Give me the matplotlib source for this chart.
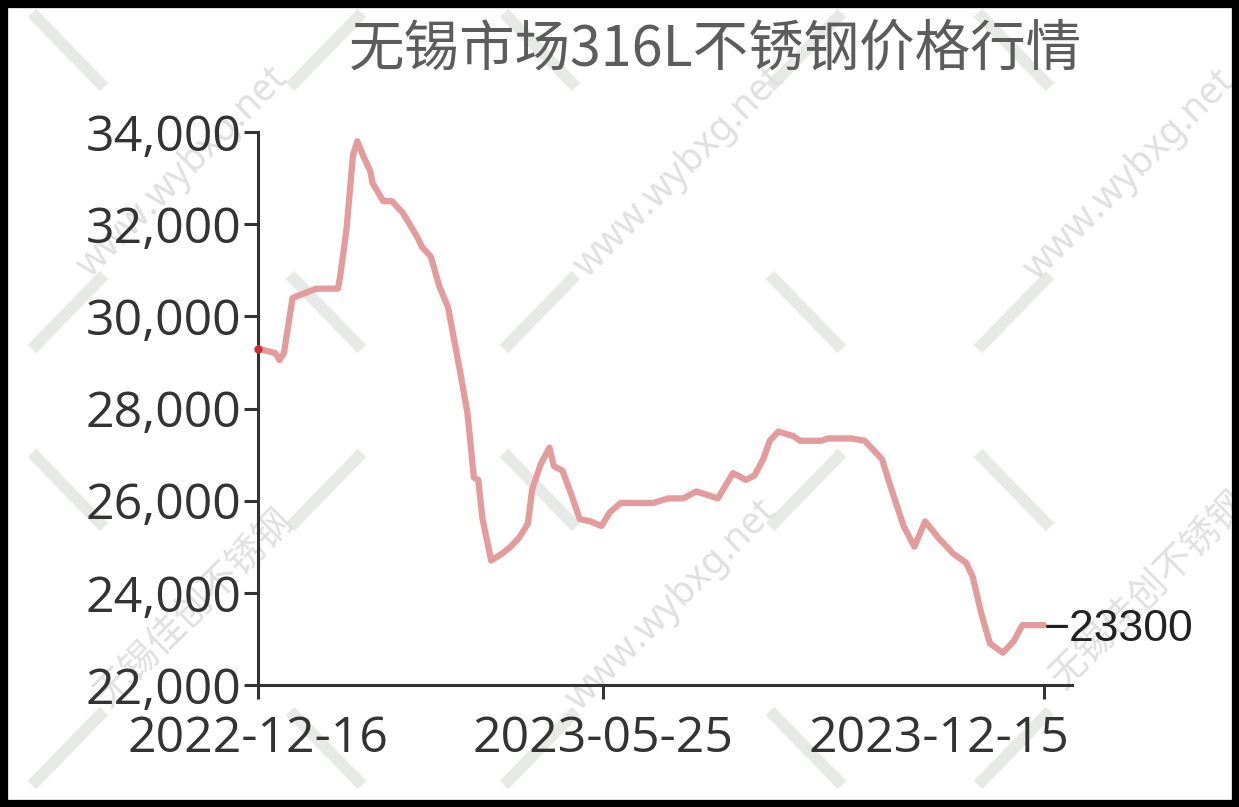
import pandas as pd
import matplotlib
matplotlib.use('Agg')
import matplotlib.pyplot as plt
from matplotlib.lines import Line2D
from matplotlib.patches import Rectangle
from matplotlib.ticker import FuncFormatter
from matplotlib.transforms import ScaledTranslation

# 316L price, Wuxi market
dates = ['2022-12-16', '2022-12-24', '2022-12-26', '2022-12-28', '2023-01-01', '2023-01-12',
         '2023-01-22', '2023-01-23', '2023-01-26', '2023-01-29', '2023-01-31', '2023-02-03',
         '2023-02-06', '2023-02-07', '2023-02-12', '2023-02-16', '2023-02-21', '2023-02-28',
         '2023-03-02', '2023-03-06', '2023-03-10', '2023-03-14', '2023-03-20', '2023-03-23',
         '2023-03-26', '2023-03-28', '2023-03-30', '2023-04-03', '2023-04-08', '2023-04-12',
         '2023-04-16', '2023-04-20', '2023-04-22', '2023-04-26', '2023-04-30', '2023-05-02',
         '2023-05-06', '2023-05-10', '2023-05-14', '2023-05-19', '2023-05-24', '2023-05-28',
         '2023-06-02', '2023-06-11', '2023-06-17', '2023-06-24', '2023-07-01', '2023-07-07',
         '2023-07-17', '2023-07-24', '2023-07-30', '2023-08-03', '2023-08-07', '2023-08-10',
         '2023-08-14', '2023-08-21', '2023-08-24', '2023-09-03', '2023-09-06', '2023-09-17',
         '2023-09-23', '2023-10-01', '2023-10-05', '2023-10-11', '2023-10-16', '2023-10-21',
         '2023-10-27', '2023-11-03', '2023-11-09', '2023-11-12', '2023-11-16', '2023-11-20',
         '2023-11-26', '2023-12-01', '2023-12-05', '2023-12-15']
prices = [29300, 29200, 29050, 29200, 30400, 30600,
          30600, 30850, 31900, 33500, 33800, 33450,
          33150, 32900, 32500, 32500, 32250, 31700,
          31500, 31300, 30650, 30200, 28700, 27900,
          26500, 26450, 25600, 24700, 24850, 25000,
          25200, 25500, 26250, 26800, 27150, 26750,
          26650, 26150, 25600, 25550, 25450, 25750,
          25950, 25950, 25950, 26050, 26050, 26200,
          26050, 26600, 26450, 26550, 26900, 27300,
          27500, 27400, 27300, 27300, 27350, 27350,
          27300, 26900, 26300, 25450, 25000, 25550,
          25200, 24850, 24650, 24350, 23550, 22900,
          22700, 22950, 23300, 23300]

x_ticks = ['2022-12-16', '2023-05-25', '2023-12-15']
y_ticks = [22000, 24000, 26000, 28000, 30000, 32000, 34000]
title = '无锡市场316L不锈钢价格行情'

W, H = 1239, 807


def fxy(x, y):
    return x / W, 1 - y / H


def draw_watermark(fig):
    # grey strokes in a checkerboard of "\" and "/"
    cols = [68, 326, 540, 806, 1014]
    rows = [50, 312, 490, 748]
    for r, cy in enumerate(rows):
        for c, cx in enumerate(cols):
            if (r + c) % 2 == 0:
                p0, p1 = fxy(cx - 36, cy - 37), fxy(cx + 36, cy + 37)
            else:
                p0, p1 = fxy(cx - 36, cy + 37), fxy(cx + 36, cy - 37)
            fig.add_artist(Line2D([p0[0], p1[0]], [p0[1], p1[1]], transform=fig.transFigure,
                                  color='#e7e9e7', lw=8.5, solid_capstyle='butt', zorder=-2))
    for cx, cy in [(183, 172), (680, 172), (1130, 175), (672, 605)]:
        x, y = fxy(cx, cy)
        fig.text(x, y, 'www.wybxg.net', rotation=45, ha='center', va='center',
                 rotation_mode='anchor', fontsize=27, color='#e0e0e0', zorder=-1,
                 family='Noto Sans')
    for cx, cy in [(195, 608), (1150, 590)]:
        x, y = fxy(cx, cy)
        fig.text(x, y, '无锡佳创不锈钢', rotation=45, ha='center', va='center',
                 rotation_mode='anchor', fontsize=27, color='#e0e0e0', zorder=-1,
                 family='Noto Sans CJK SC')


fig = plt.figure(figsize=(W / 100, H / 100), dpi=100)
fig.patch.set_facecolor('white')
draw_watermark(fig)

ax = fig.add_axes([258 / W, 1 - 685 / H, (1072 - 258) / W, (685 - 132) / H])
ax.patch.set_visible(False)

price_dates = pd.to_datetime(dates)
ax.plot(price_dates, prices, color='#e39b9b', lw=4.5, solid_joinstyle='round',
        solid_capstyle='round', clip_on=False, zorder=3)
ax.plot(price_dates[:1], prices[:1], 'o', color='#d42a2a', ms=5, clip_on=False, zorder=4)

ax.set_xlim(pd.Timestamp('2022-12-16'), pd.Timestamp('2023-12-28'))
ax.set_ylim(22000, 34000)
ax.set_yticks(y_ticks)
ax.yaxis.set_major_formatter(FuncFormatter(lambda v, p: f'{v:,.0f}'))
ax.set_xticks(pd.to_datetime(x_ticks))
ax.set_xticklabels(x_ticks)

for side in ['top', 'right']:
    ax.spines[side].set_visible(False)
for side in ['left', 'bottom']:
    ax.spines[side].set_color('#333333')
    ax.spines[side].set_linewidth(2.2)

ax.tick_params(axis='both', colors='#333333', width=2.2, length=10, labelsize=36,
               labelcolor='#333333')
ax.tick_params(axis='y', pad=2)
ax.tick_params(axis='x', pad=11)
for lab in ax.get_xticklabels() + ax.get_yticklabels():
    lab.set_family('Open Sans')

# last date label is pushed left so it ends just past the axis end
last = ax.get_xticklabels()[-1]
last.set_horizontalalignment('right')
last.set_transform(last.get_transform() + ScaledTranslation(0.25, 0, fig.dpi_scale_trans))

ax.annotate('\u2212' + str(prices[-1]), xy=(price_dates[-1], prices[-1]), xytext=(0, 0),
            textcoords='offset points', ha='left', va='center_baseline', fontsize=32,
            color='#222222', family=['Liberation Sans Narrow', 'Liberation Sans'])

x, y = fxy(715, 50)
fig.text(x, y, title, ha='center', va='center', fontsize=40, color='#5c5c5c',
         family=['Noto Sans CJK SC', 'DejaVu Sans'])

fig.add_artist(Rectangle((0, 0), 1, 1, transform=fig.transFigure, fill=False,
                         ec='black', lw=11, zorder=10))

fig.savefig('out.png', dpi=100)
